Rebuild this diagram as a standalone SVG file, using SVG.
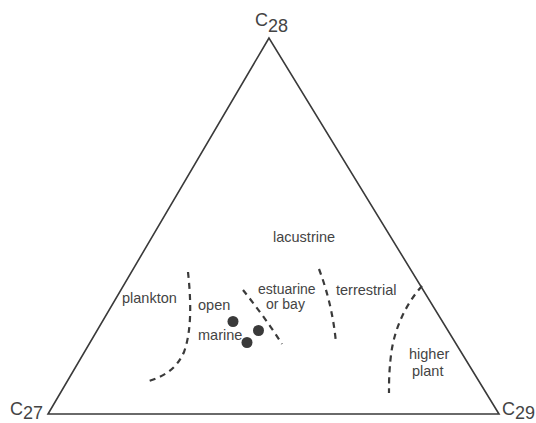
<svg xmlns="http://www.w3.org/2000/svg" width="536" height="423" viewBox="0 0 536 423">
<style>
.edge{fill:none;stroke:#3a3a3a;stroke-width:1.6;stroke-linejoin:miter}
.bd{fill:none;stroke:#3a3a3a;stroke-width:2.2;stroke-dasharray:6 5}
.lbl{font-family:"Liberation Sans",Arial,sans-serif;font-size:14.5px;fill:#444}
.sm{font-size:14px}
.vx{font-family:"Liberation Sans",Arial,sans-serif;font-size:18px;fill:#444}
.dot{fill:#3a3a3a}
</style>
<rect width="536" height="423" fill="#ffffff"/>
<g id="triangle">
<polygon class="edge" points="269,38 48,414 499,414"/>
</g>
<g id="vertex-c28"><text class="vx" x="255" y="26">C<tspan dy="6">28</tspan></text></g>
<g id="vertex-c27"><text class="vx" x="10" y="415">C<tspan dy="4">27</tspan></text></g>
<g id="vertex-c29"><text class="vx" x="502" y="415">C<tspan dy="4">29</tspan></text></g>
<g id="connectors">
<path class="bd" d="M188,272 C191,300 192,330 184,352 C177,368 165,376 149,381"/>
<path class="bd" d="M243,290 C255,305 270,325 282,344"/>
<path class="bd" d="M319,269 C325,285 333,310 336,343"/>
<path class="bd" d="M422,286 C405,305 394,330 391,355 C389,372 389,382 389,393"/>
</g>
<g id="lacustrine"><text class="lbl" x="273" y="242">lacustrine</text></g>
<g id="plankton"><text class="lbl" x="122" y="303">plankton</text></g>
<g id="open-marine">
<text class="lbl" x="198" y="310">open</text>
<text class="lbl" x="198" y="340">marine</text>
<circle class="dot" cx="233" cy="321.5" r="5.5"/>
<circle class="dot" cx="258.5" cy="330.5" r="5.5"/>
<circle class="dot" cx="247" cy="342.5" r="5.5"/>
</g>
<g id="estuarine"><text class="lbl sm" x="258" y="294">estuarine</text><text class="lbl sm" x="266" y="309">or bay</text></g>
<g id="terrestrial"><text class="lbl" x="336" y="295">terrestrial</text></g>
<g id="higher-plant"><text class="lbl" x="409" y="359">higher</text><text class="lbl" x="412" y="376">plant</text></g>
</svg>
